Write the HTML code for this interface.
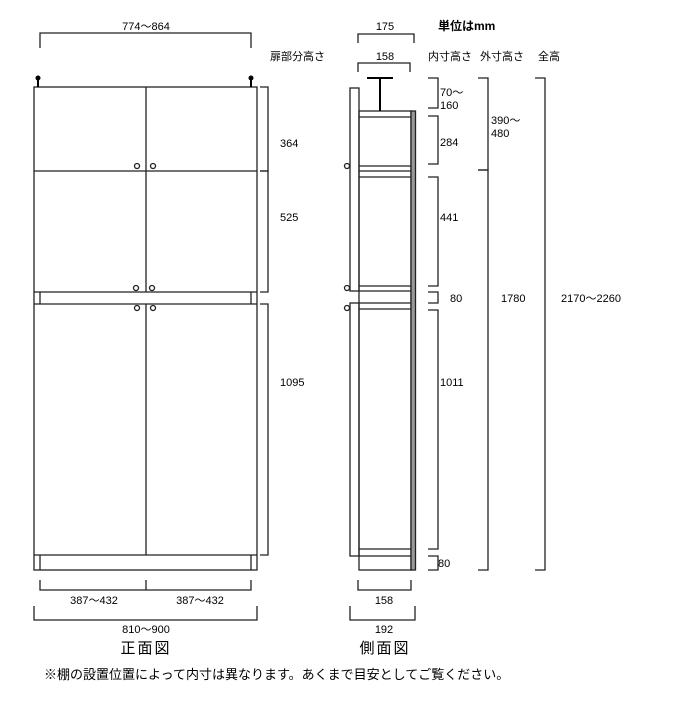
<!DOCTYPE html>
<html><head><meta charset="utf-8"><style>
html,body{margin:0;padding:0;background:#fff;}
svg{display:block;}
text{font-family:"Liberation Sans","Noto Sans CJK JP",sans-serif;font-size:11px;fill:#000;}
</style></head><body>
<svg width="700" height="719" viewBox="0 0 700 719" xmlns="http://www.w3.org/2000/svg">
<g fill="none" stroke="#222" stroke-width="1.3">
<!-- Front view -->
<path d="M40 48V33H251V48"/>
<rect x="34" y="87" width="223" height="483"/>
<line x1="146" y1="87" x2="146" y2="292"/>
<line x1="146" y1="304" x2="146" y2="555"/>
<line x1="34" y1="171" x2="257" y2="171"/>
<line x1="34" y1="292" x2="257" y2="292"/>
<line x1="34" y1="304" x2="257" y2="304"/>
<line x1="34" y1="555" x2="257" y2="555"/>
<line x1="40" y1="292" x2="40" y2="304"/><line x1="251" y1="292" x2="251" y2="304"/>
<line x1="40" y1="555" x2="40" y2="570"/><line x1="251" y1="555" x2="251" y2="570"/>
<circle cx="137" cy="166" r="2.5"/><circle cx="153" cy="166" r="2.5"/>
<circle cx="136" cy="288" r="2.5"/><circle cx="152" cy="288" r="2.5"/>
<circle cx="137" cy="308" r="2.5"/><circle cx="153" cy="308" r="2.5"/>
<path d="M260 87H268V171H260"/>
<path d="M260 171H268V292H260"/>
<path d="M260 304H268V555H260"/>
<path d="M40 580V590H251V580M146 580V590"/>
<path d="M34 606V620H257V606"/>
<!-- Side view -->
<path d="M358 43V34H414V43"/>
<path d="M358 72V63H410V72"/>
<rect x="350" y="88" width="9" height="203"/>
<rect x="350" y="303" width="9" height="253"/>
<rect x="359" y="111" width="52" height="459"/>
<line x1="359" y1="117" x2="411" y2="117"/>
<line x1="359" y1="166" x2="411" y2="166"/>
<line x1="359" y1="171" x2="415" y2="171"/>
<line x1="359" y1="177" x2="415" y2="177"/>
<line x1="359" y1="286" x2="411" y2="286"/>
<line x1="359" y1="291" x2="411" y2="291"/>
<line x1="359" y1="303" x2="411" y2="303"/>
<line x1="359" y1="309" x2="411" y2="309"/>
<line x1="359" y1="549" x2="411" y2="549"/>
<line x1="359" y1="556" x2="411" y2="556"/>
<rect x="411" y="111" width="4.5" height="459" fill="#999"/>
<circle cx="347" cy="166" r="2.5"/><circle cx="347" cy="288" r="2.5"/><circle cx="347" cy="308" r="2.5"/>
<path d="M428 78H438V108H428"/>
<path d="M428 116H438V164H428"/>
<path d="M428 177H438V286H428"/>
<path d="M428 292H438V303H428"/>
<path d="M428 310H438V549H428"/>
<path d="M428 556H438V570H428"/>
<path d="M478 78H488V170H478"/>
<path d="M478 170H488V570H478"/>
<path d="M535 78H545V570H535"/>
<path d="M358 580V590H411V580"/>
<path d="M350 606V620H415V606"/>
</g>
<!-- anchors and hanger -->
<g stroke="#000" stroke-width="2">
<line x1="38" y1="78" x2="38" y2="87"/><line x1="251" y1="78" x2="251" y2="87"/>
<line x1="367" y1="78" x2="393" y2="78"/><line x1="380" y1="78" x2="380" y2="111"/>
</g>
<circle cx="38" cy="78" r="2.5"/><circle cx="251" cy="78" r="2.5"/>
<!-- text -->
<text x="146" y="30" text-anchor="middle">774〜864</text>
<text x="270" y="60">扉部分高さ</text>
<text x="280" y="147">364</text>
<text x="280" y="221">525</text>
<text x="280" y="386">1095</text>
<text x="94" y="604" text-anchor="middle">387〜432</text>
<text x="200" y="604" text-anchor="middle">387〜432</text>
<text x="146" y="633" text-anchor="middle">810〜900</text>
<text x="146" y="653" text-anchor="middle" style="font-size:15px;letter-spacing:2px">正面図</text>
<text x="385" y="30" text-anchor="middle">175</text>
<text x="385" y="60" text-anchor="middle">158</text>
<text x="438" y="30" style="font-weight:bold;font-size:12px">単位はmm</text>
<text x="428" y="60">内寸高さ</text>
<text x="480" y="60">外寸高さ</text>
<text x="538" y="60">全高</text>
<text x="440" y="96">70〜</text>
<text x="440" y="109">160</text>
<text x="440" y="146">284</text>
<text x="440" y="221">441</text>
<text x="450" y="302">80</text>
<text x="440" y="386">1011</text>
<text x="438" y="567">80</text>
<text x="491" y="124">390〜</text>
<text x="491" y="137">480</text>
<text x="501" y="302">1780</text>
<text x="561" y="302">2170〜2260</text>
<text x="384" y="604" text-anchor="middle">158</text>
<text x="384" y="633" text-anchor="middle">192</text>
<text x="385" y="653" text-anchor="middle" style="font-size:15px;letter-spacing:2px">側面図</text>
<text x="44" y="679" style="font-size:13px">※棚の設置位置によって内寸は異なります。あくまで目安としてご覧ください。</text>
</svg>
</body></html>
